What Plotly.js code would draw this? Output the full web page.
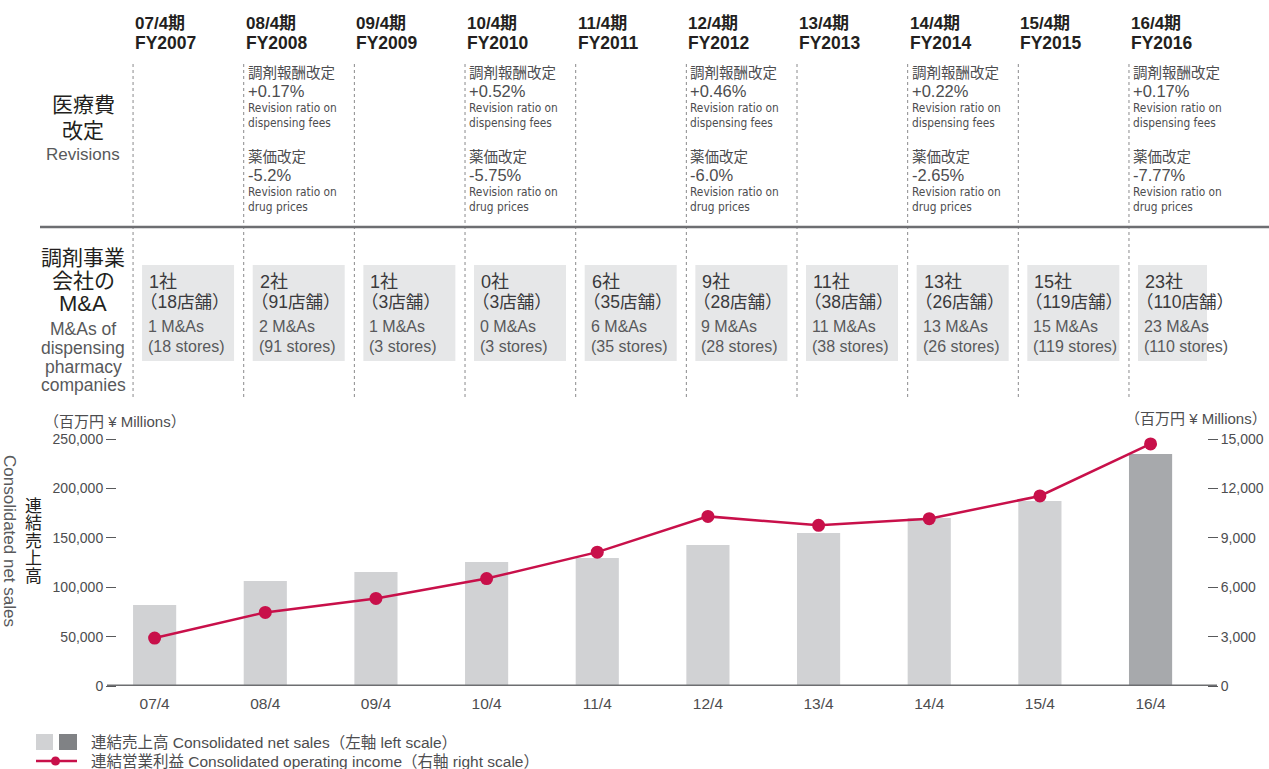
<!DOCTYPE html>
<html><head><meta charset="utf-8">
<script src="https://cdn.plot.ly/plotly-3.0.1.min.js"></script>
<style>html,body{margin:0;padding:0;background:#fff;} #chart{width:1269px;height:769px;}</style>
</head><body><div id="chart"></div>
<script>
// ---------- data ----------
const categories = ['07/4','08/4','09/4','10/4','11/4','12/4','13/4','14/4','15/4','16/4'];
const netSales = [82000,106300,115400,125500,129600,142700,154900,170000,187200,234800];
const operatingIncome = [2910,4470,5320,6525,8130,10300,9760,10160,11540,14700];
const fyJa = ['07/4期','08/4期','09/4期','10/4期','11/4期','12/4期','13/4期','14/4期','15/4期','16/4期'];
const fyEn = ['FY2007','FY2008','FY2009','FY2010','FY2011','FY2012','FY2013','FY2014','FY2015','FY2016'];
const dispFeeRev = [null,'+0.17%',null,'+0.52%',null,'+0.46%',null,'+0.22%',null,'+0.17%'];
const drugPriceRev = [null,'-5.2%',null,'-5.75%',null,'-6.0%',null,'-2.65%',null,'-7.77%'];
const maCompanies = [1,2,1,0,6,9,11,13,15,23];
const maStores = [18,91,3,3,35,28,38,26,119,110];
const leftTicks = [0,50000,100000,150000,200000,250000];
const rightTicks = [0,3000,6000,9000,12000,15000];

// ---------- layout helpers ----------
const SANS = '"Liberation Sans", "Noto Sans CJK JP", sans-serif';
const NARROW = '"Liberation Sans Narrow", "DejaVu Sans Condensed", "Noto Sans CJK JP", sans-serif';
const L = 117, R = 1207, T = 439, B = 686;
const W = R - L, H = B - T;
const XR = [-0.34, 9.51];
const unitPx = W / (XR[1] - XR[0]);
const px = p => (p - L) / W;
const py = p => (B - p) / H;
const RED = '#c8104a';
const DARK = '#231f20', MID = '#4d4d4f', LIGHT = '#58595b';
const colOff = -0.195; // column edge relative to category center

const annotations = [];
const shapes = [];
function ann(o) {
  annotations.push(Object.assign({showarrow:false, yref:'paper', yanchor:'middle', borderpad:0}, o));
}
function txt(xref, x, yPix, text, size, color, extra) {
  ann(Object.assign({xref:xref, x:x, y:py(yPix), text:text, xanchor:'left',
    font:{family:SANS, size:size, color:color}}, extra || {}));
}

categories.forEach((c, i) => {
  const cx = i + colOff;
  // header
  txt('x', cx, 23, fyJa[i], 17, DARK, {xshift:1, font:{family:SANS, size:17, color:DARK, weight:'bold'}});
  txt('x', cx, 43, fyEn[i], 17, DARK, {xshift:1, font:{family:SANS, size:17.5, color:DARK, weight:'bold'}});
  // dashed column line
  shapes.push({type:'line', xref:'x', yref:'paper', x0:cx, x1:cx, y0:py(397), y1:py(63),
    line:{color:'#8a8a8c', width:1, dash:'3px,3px'}});
  // revisions
  if (dispFeeRev[i]) {
    txt('x', cx, 73, '調剤報酬改定', 14.5, MID, {xshift:3});
    txt('x', cx, 91, dispFeeRev[i], 16.5, MID, {xshift:3});
    ann({xref:'x', x:cx, xshift:3, y:py(108), xanchor:'left', text:'Revision ratio on', font:{family:NARROW, size:11.8, color:MID}});
    ann({xref:'x', x:cx, xshift:3, y:py(123), xanchor:'left', text:'dispensing fees', font:{family:NARROW, size:11.8, color:MID}});
    txt('x', cx, 157, '薬価改定', 14.5, MID, {xshift:3});
    txt('x', cx, 175, drugPriceRev[i], 16.5, MID, {xshift:3});
    ann({xref:'x', x:cx, xshift:3, y:py(192), xanchor:'left', text:'Revision ratio on', font:{family:NARROW, size:11.8, color:MID}});
    ann({xref:'x', x:cx, xshift:3, y:py(207), xanchor:'left', text:'drug prices', font:{family:NARROW, size:11.8, color:MID}});
  }
  // M&A box
  shapes.push({type:'rect', xref:'x', yref:'paper', layer:'below',
    x0:cx + 9/unitPx, x1:cx + 101/unitPx, y0:py(361), y1:py(265),
    fillcolor:'#e6e7e8', line:{width:0}});
  txt('x', cx, 282, maCompanies[i] + '社', 18, '#3a3a3c', {xshift:15});
  txt('x', cx, 301.5, '（' + maStores[i] + '店舗）', 17.5, '#3a3a3c', {xshift:6});
  txt('x', cx, 326.5, maCompanies[i] + ' M&As', 16, LIGHT, {xshift:14});
  txt('x', cx, 346.5, '(' + maStores[i] + ' stores)', 16, LIGHT, {xshift:14});
});

// divider line
shapes.push({type:'line', xref:'paper', yref:'paper', x0:px(40), x1:px(1269), y0:py(227), y1:py(227),
  line:{color:'#6d6e71', width:2.5}});
// zero line
shapes.push({type:'line', xref:'paper', yref:'y', x0:px(107), x1:px(1217), y0:0, y1:0,
  line:{color:'#6d6e71', width:3}, layer:'above'});

// left row labels
const cxLbl = px(83);
function ctr(yPix, text, size, color) {
  ann({xref:'paper', x:cxLbl, y:py(yPix), xanchor:'center', text:text, font:{family:SANS, size:size, color:color}});
}
ctr(104, '医療費', 21, DARK);
ctr(131, '改定', 21, DARK);
ctr(155, 'Revisions', 17, LIGHT);
ctr(257, '調剤事業', 21, DARK);
ctr(280, '会社の', 21, DARK);
ctr(303, 'M&A', 22, DARK);
ctr(329, 'M&As of', 17.5, LIGHT);
ctr(348, 'dispensing', 17.5, LIGHT);
ctr(367, 'pharmacy', 17.5, LIGHT);
ctr(385, 'companies', 17.5, LIGHT);

// units
txt('paper', px(43), 421, '（百万円 ¥ Millions）', 15, MID);
ann({xref:'paper', x:px(1268), y:py(418), xanchor:'right', text:'（百万円 ¥ Millions）',
  font:{family:SANS, size:15, color:MID}});

// axis titles
ann({xref:'paper', x:px(10), y:py(541), xanchor:'center', textangle:90, text:'Consolidated net sales',
  font:{family:SANS, size:17, color:LIGHT}});
'連結売上高'.split('').forEach((ch, k) => {
  ann({xref:'paper', x:px(33), y:py(506 + k*17.6), xanchor:'center', text:ch,
    font:{family:SANS, size:17, color:DARK}});
});

// legend
shapes.push({type:'rect', xref:'paper', yref:'paper', x0:px(36), x1:px(53), y0:py(750), y1:py(734), fillcolor:'#d1d2d4', line:{width:0}});
shapes.push({type:'rect', xref:'paper', yref:'paper', x0:px(59), x1:px(77), y0:py(750), y1:py(734), fillcolor:'#808285', line:{width:0}});
shapes.push({type:'line', xref:'paper', yref:'paper', x0:px(36), x1:px(77), y0:py(761), y1:py(761), line:{color:RED, width:2.5}});
shapes.push({type:'circle', xref:'paper', yref:'paper', x0:px(51), x1:px(60), y0:py(765.5), y1:py(756.5), fillcolor:RED, line:{width:0}});
txt('paper', px(90), 742, '連結売上高 Consolidated net sales（左軸 left scale）', 15.5, MID);
txt('paper', px(90), 761, '連結営業利益 Consolidated operating income（右軸 right scale）', 15.5, MID);

// ---------- traces ----------
const barColors = categories.map((c, i) => i === categories.length - 1 ? '#a7a9ac' : '#d1d2d4');
const traces = [
  {type:'bar', x:categories, y:netSales, yaxis:'y', width:0.39,
   marker:{color:barColors, line:{width:0}}, hoverinfo:'skip'},
  {type:'scatter', mode:'lines+markers', x:categories, y:operatingIncome, yaxis:'y2',
   line:{color:RED, width:2.5}, marker:{color:RED, size:13}, cliponaxis:false, hoverinfo:'skip'}
];

const tickCommon = {ticks:'outside', ticklen:10, tickwidth:1, tickcolor:'#58595b',
  showgrid:false, zeroline:false, showline:false, tickformat:',d',
  tickfont:{family:SANS, size:14, color:MID}, fixedrange:true};

const layout = {
  width:1269, height:769,
  margin:{l:L, r:1269-R, t:T, b:769-B},
  paper_bgcolor:'#fff', plot_bgcolor:'#fff',
  showlegend:false,
  font:{family:SANS},
  xaxis:{type:'category', range:XR, showline:false, showgrid:false, zeroline:false, ticks:'',
    ticklabelstandoff:6,
    tickfont:{family:SANS, size:15.5, color:MID}, fixedrange:true},
  yaxis:Object.assign({range:[0,250000], tickvals:leftTicks}, tickCommon),
  yaxis2:Object.assign({range:[0,15000], tickvals:rightTicks, overlaying:'y', side:'right'}, tickCommon),
  shapes:shapes,
  annotations:annotations
};

Plotly.newPlot('chart', traces, layout, {displayModeBar:false, staticPlot:true});
</script>
</body></html>
